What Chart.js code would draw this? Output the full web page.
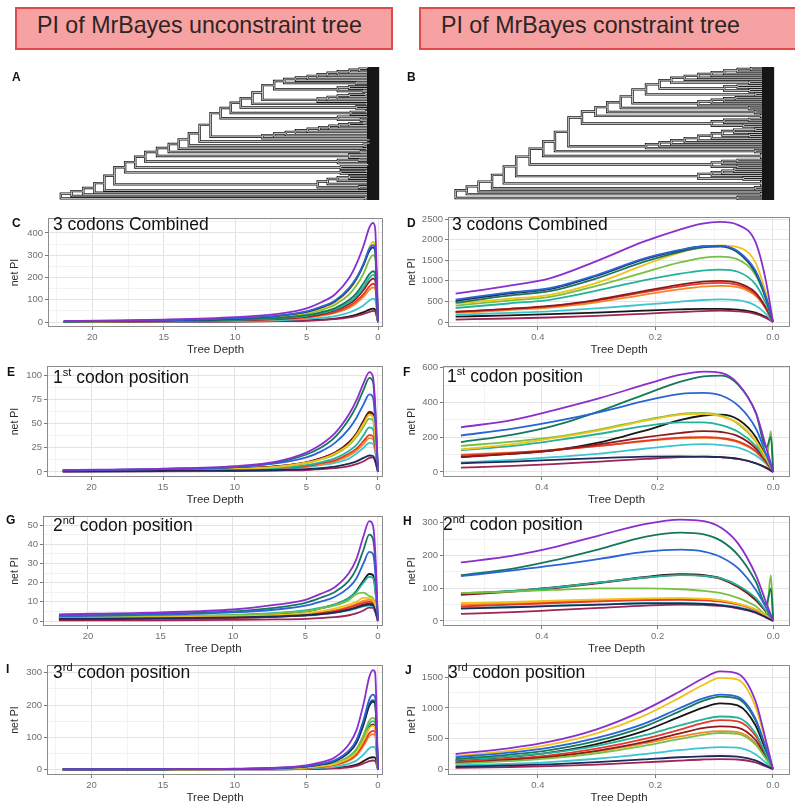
<!DOCTYPE html>
<html>
<head>
<meta charset="utf-8">
<script src="https://cdn.jsdelivr.net/npm/chart.js@4.4.1/dist/chart.umd.min.js"></script>
<style>
html, body { margin: 0; padding: 0; background: #fff; }
body { width: 795px; height: 805px; position: relative; overflow: hidden; font-family: "Liberation Sans", Arial, sans-serif; }
canvas { position: absolute; }
.hdr { position: absolute; top: 7px; height: 43px; box-sizing: border-box; background: #f6a2a2; border: 2px solid #e04a4a;
       font-size: 23.2px; line-height: 33px; color: #2e2424; padding-left: 20px; white-space: nowrap; overflow: hidden; }
.lab { position: absolute; font-weight: bold; font-size: 12px; line-height: 12px; color: #111; }
.ttl { position: absolute; font-size: 17.5px; line-height: 18px; color: #111; white-space: nowrap; }
.ttl sup { font-size: 11px; line-height: 0; vertical-align: baseline; position: relative; top: -7px; }
</style>
</head>
<body>
<div class="hdr" style="left:15px;width:378px;">PI of MrBayes unconstraint tree</div>
<div class="hdr" style="left:419px;width:380px;">PI of MrBayes constraint tree</div>

<script>
const FONT = '"Liberation Sans", Arial, sans-serif';

// ---- depth sampling of the informativeness profiles ----
const depthUncon = [22, 15, 10, 7, 5, 4, 3, 2, 1.5, 1, 0.6, 0.35, 0.2, 0];
const depthCon = [0.54, 0.45, 0.38, 0.3, 0.22, 0.16, 0.12, 0.09, 0.06, 0.03, 0.012, 0.004, 0];

// one colour per locus: purple, blue, navy, dark green, yellow, light green, teal,
// dark red, red, orange, cyan, maroon, black
const lociColors = ['#8a2fcc', '#2a64d6', '#1d2b5c', '#16785a', '#f1c21b', '#78c043', '#22b39a',
                    '#8e1b1b', '#e4382a', '#f3862a', '#3cc5d0', '#9c2457', '#171717'];

// ---- net PI, 3 codons combined ----
const piCombinedUncon = [
  [4, 11, 22, 37, 62, 88, 125, 200, 262, 345, 425, 445, 420, 0],
  [3, 8, 17, 29, 48, 68, 97, 155, 200, 265, 330, 345, 330, 0],
  [3, 8, 16, 28, 46, 65, 93, 150, 195, 258, 320, 335, 320, 0],
  [2, 5, 11, 19, 31, 44, 63, 100, 130, 175, 215, 228, 220, 0],
  [2, 6, 14, 25, 42, 60, 88, 145, 192, 262, 335, 360, 345, 0],
  [2, 6, 13, 23, 38, 54, 78, 125, 165, 220, 280, 300, 290, 0],
  [2, 5, 10, 17, 28, 40, 57, 90, 118, 158, 198, 212, 205, 0],
  [1, 4, 9, 15, 25, 36, 52, 82, 108, 145, 183, 195, 188, 0],
  [1, 3, 8, 13, 22, 32, 45, 72, 95, 127, 160, 172, 165, 0],
  [1, 3, 7, 12, 20, 29, 41, 65, 86, 115, 145, 156, 150, 0],
  [1, 2, 5, 8, 14, 19, 27, 43, 57, 76, 97, 105, 100, 0],
  [0, 1, 2, 4, 6, 9, 13, 21, 28, 37, 46, 50, 48, 0],
  [1, 2, 3, 5, 8, 11, 16, 26, 34, 45, 56, 60, 57, 0]
];
const piCombinedCon = [
  [690, 880, 1060, 1480, 1950, 2240, 2390, 2430, 2360, 1950, 1000, null, 0],
  [545, 715, 820, 1140, 1540, 1745, 1840, 1850, 1720, 1250, 600, null, 0],
  [510, 690, 800, 1120, 1520, 1735, 1835, 1845, 1710, 1230, 590, null, 0],
  [470, 640, 750, 1060, 1460, 1700, 1810, 1830, 1690, 1200, 570, null, 0],
  [450, 560, 660, 950, 1380, 1680, 1810, 1860, 1820, 1450, 700, null, 0],
  [400, 520, 610, 880, 1200, 1440, 1560, 1590, 1520, 1150, 560, null, 0],
  [340, 450, 540, 760, 1010, 1170, 1250, 1270, 1220, 920, 450, null, 0],
  [245, 320, 390, 540, 750, 900, 980, 1000, 950, 720, 350, null, 0],
  [250, 315, 380, 520, 720, 860, 930, 950, 900, 680, 330, null, 0],
  [220, 290, 350, 480, 660, 790, 860, 880, 850, 640, 320, null, 0],
  [175, 220, 260, 330, 420, 490, 535, 550, 530, 400, 200, null, 0],
  [60, 85, 110, 150, 200, 240, 265, 275, 260, 200, 100, null, 0],
  [130, 160, 190, 230, 275, 305, 320, 320, 300, 230, 120, null, 0]
];

// ---- net PI, 1st codon position ----
const piPos1Uncon = [
  [2, 3.5, 6, 11, 20, 28, 40, 60, 74, 92, 103, 98, 70, 0],
  [1.5, 3, 5, 9, 15, 21, 30, 45, 56, 70, 80, 77, 55, 0],
  [0.5, 1, 1.5, 2, 3, 4, 5.5, 8.5, 11, 14.5, 17, 16.5, 12, 0],
  [1.5, 3, 5, 10, 18, 25, 36, 55, 68, 85, 97, 93, 66, 0],
  [1, 2, 3, 5.5, 9.5, 13, 19, 29, 38, 50, 59, 57, 40, 0],
  [1, 2, 3, 5, 9, 13, 18, 28, 36, 47, 55, 53, 38, 0],
  [1, 1.5, 2.5, 4, 7, 10, 14, 22, 28, 38, 46, 44, 32, 0],
  [1, 2, 3.5, 6, 10, 14, 20, 30, 39, 52, 61, 59, 42, 0],
  [1, 1.5, 2.5, 4, 6, 9, 12, 19, 24, 32, 38, 37, 27, 0],
  [1, 1.5, 2.5, 4, 6, 8, 11, 17, 22, 29, 35, 34, 24, 0],
  [0.5, 1, 2, 3, 5, 7, 9.5, 14, 19, 25, 30, 29, 21, 0],
  [0.2, 0.5, 1, 1.5, 2, 3, 4, 6, 8, 11, 14.5, 15, 11, 0],
  [1, 2, 3.5, 6, 10, 14, 20, 31, 40, 53, 62, 60, 43, 0]
];
const piPos1Con = [
  [257, 300, 355, 425, 505, 560, 578, 570, 505, 340, 140, null, 0],
  [210, 250, 290, 345, 410, 450, 455, 440, 380, 250, 100, null, 0],
  [50, 60, 70, 80, 88, 90, 88, 85, 75, 50, 25, null, 0],
  [172, 215, 265, 350, 450, 520, 550, 555, 500, 340, 140, 200, 0],
  [130, 160, 195, 240, 295, 330, 335, 320, 280, 180, 80, null, 0],
  [150, 175, 200, 245, 300, 335, 340, 325, 275, 175, 75, 235, 0],
  [125, 150, 180, 220, 265, 285, 285, 270, 230, 150, 70, null, 0],
  [85, 105, 125, 160, 200, 225, 235, 230, 205, 135, 60, null, 0],
  [95, 110, 125, 150, 180, 198, 200, 195, 175, 120, 55, null, 0],
  [100, 112, 128, 150, 178, 193, 197, 192, 170, 115, 50, null, 0],
  [55, 70, 85, 105, 135, 155, 160, 155, 140, 95, 45, null, 0],
  [25, 35, 45, 60, 75, 85, 88, 85, 75, 50, 22, null, 0],
  [88, 105, 125, 170, 240, 300, 325, 330, 300, 200, 80, null, 0]
];

// ---- net PI, 2nd codon position ----
const piPos2Uncon = [
  [3.5, 4.5, 6, 8.5, 11, 14, 17.5, 25, 32, 44, 52, 50, 38, 0],
  [2.5, 3.3, 4.5, 6, 8, 10, 12.5, 17.5, 22, 30, 36, 35, 27, 0],
  [1.2, 1.5, 1.9, 2.4, 3, 3.6, 4.4, 5.8, 6.8, 8, 8.5, 8.2, 6, 0],
  [2.8, 3.8, 5, 7, 9.5, 12, 15, 21, 27, 37, 45, 43, 33, 0],
  [1.5, 2, 2.5, 3, 4, 5, 6.5, 8.5, 10, 12, 12, 11, 8.5, 0],
  [2, 2.5, 3, 4, 5, 6.5, 8, 11, 14, 14.8, 13, 12, 9, 0],
  [2, 2.5, 3.2, 4.2, 5.5, 6.8, 8.5, 12, 15, 20, 23, 22.5, 17, 0],
  [0.8, 1.2, 1.6, 2.2, 2.9, 3.6, 4.5, 6, 7.2, 8.5, 9, 8.7, 6.5, 0],
  [1, 1.4, 1.9, 2.5, 3.3, 4.2, 5.2, 7, 8.3, 9.5, 10, 9.5, 7, 0],
  [1, 1.5, 2, 2.7, 3.5, 4.5, 5.5, 7.5, 9, 10.5, 11, 10.5, 8, 0],
  [1, 1.3, 1.7, 2.2, 2.8, 3.4, 4.2, 5.5, 6.5, 7.6, 8, 7.7, 5.5, 0],
  [0.3, 0.4, 0.6, 0.8, 1.1, 1.5, 2, 3, 4, 5.5, 7, 6.8, 5, 0],
  [1.5, 2, 2.8, 3.8, 5, 6.5, 8.5, 12, 15.5, 21, 24.5, 24, 18, 0]
];
const piPos2Con = [
  [179, 200, 225, 262, 297, 310, 305, 285, 235, 140, 55, null, 0],
  [137, 155, 170, 190, 212, 218, 212, 195, 160, 95, 40, null, 0],
  [38, 42, 46, 50, 54, 54, 52, 48, 40, 26, 11, null, 0],
  [140, 160, 185, 220, 258, 270, 265, 245, 200, 120, 50, 100, 0],
  [55, 58, 62, 66, 69, 70, 68, 63, 52, 35, 15, null, 0],
  [85, 90, 95, 100, 100, 97, 92, 85, 70, 45, 20, 140, 0],
  [85, 92, 102, 118, 133, 140, 138, 130, 108, 70, 30, null, 0],
  [80, 90, 100, 116, 133, 141, 138, 128, 103, 63, 27, null, 0],
  [45, 50, 55, 60, 64, 65, 63, 59, 50, 33, 14, null, 0],
  [50, 54, 58, 63, 67, 68, 66, 62, 52, 34, 15, null, 0],
  [40, 43, 47, 51, 55, 55, 53, 49, 42, 28, 12, null, 0],
  [22, 27, 33, 40, 47, 50, 49, 46, 38, 25, 10, null, 0],
  [82, 92, 103, 118, 135, 143, 140, 130, 105, 65, 28, null, 0]
];

// ---- net PI, 3rd codon position ----
const piPos3Uncon = [
  [0.5, 1, 2.5, 6, 13, 22, 38, 80, 122, 205, 288, 308, 300, 0],
  [0.4, 0.8, 2, 4.5, 10, 17, 29, 60, 92, 155, 218, 232, 225, 0],
  [0.4, 0.8, 1.8, 4, 9, 15, 26, 54, 83, 140, 198, 210, 204, 0],
  [0.4, 0.8, 1.8, 4.2, 9.5, 16, 27, 56, 86, 145, 203, 215, 208, 0],
  [0.3, 0.5, 1.2, 2.7, 6, 10, 17, 35, 54, 91, 128, 135, 130, 0],
  [0.3, 0.6, 1.4, 3.2, 7, 12, 20, 42, 64, 108, 152, 160, 155, 0],
  [0.3, 0.6, 1.3, 3, 6.5, 11, 19, 39, 60, 101, 142, 150, 145, 0],
  [0.3, 0.5, 1.2, 2.8, 6, 10, 17.5, 36, 56, 94, 132, 140, 135, 0],
  [0.2, 0.5, 1, 2.4, 5, 9, 15, 31, 48, 81, 113, 120, 116, 0],
  [0.2, 0.4, 1, 2.2, 4.8, 8, 13.5, 28, 44, 74, 104, 110, 106, 0],
  [0.1, 0.3, 0.6, 1.4, 3, 5, 8.5, 18, 28, 47, 66, 70, 68, 0],
  [0.1, 0.1, 0.3, 0.6, 1.2, 2, 3.4, 7, 11, 19, 26, 28, 27, 0],
  [0.1, 0.2, 0.4, 0.8, 1.7, 3, 5, 10, 15, 26, 36, 38, 37, 0]
];
const piPos3Con = [
  [248, 340, 448, 650, 960, 1260, 1475, 1595, 1560, 1120, 470, null, 0],
  [195, 270, 350, 510, 740, 990, 1150, 1215, 1180, 830, 350, null, 0],
  [40, 60, 80, 115, 160, 195, 210, 215, 205, 145, 60, null, 0],
  [165, 235, 310, 460, 690, 940, 1110, 1185, 1150, 800, 335, null, 0],
  [215, 300, 400, 585, 870, 1160, 1370, 1490, 1460, 1030, 430, null, 0],
  [90, 130, 175, 260, 380, 490, 560, 590, 575, 405, 170, null, 0],
  [150, 205, 265, 380, 550, 710, 810, 860, 840, 590, 250, null, 0],
  [100, 150, 200, 300, 440, 580, 670, 700, 680, 480, 200, null, 0],
  [120, 170, 225, 335, 490, 640, 750, 800, 780, 550, 230, null, 0],
  [110, 155, 200, 290, 420, 530, 595, 620, 605, 430, 180, null, 0],
  [60, 85, 115, 170, 245, 310, 345, 360, 350, 245, 105, null, 0],
  [20, 35, 50, 75, 110, 140, 158, 165, 158, 110, 45, null, 0],
  [140, 200, 270, 410, 620, 850, 1000, 1075, 1040, 720, 300, null, 0]
];

// ---- axis ticks ----
const depthTicksUncon = [0, 5, 10, 15, 20];
const depthTicksCon = [0, 0.2, 0.4];
const yTicksCombinedUncon = [0, 100, 200, 300, 400];
const yTicksCombinedCon = [0, 500, 1000, 1500, 2000, 2500];
const yTicksPos1Uncon = [0, 25, 50, 75, 100];
const yTicksPos1Con = [0, 200, 400, 600];
const yTicksPos2Uncon = [0, 10, 20, 30, 40, 50];
const yTicksPos2Con = [0, 100, 200, 300];
const yTicksPos3Uncon = [0, 100, 200, 300];
const yTicksPos3Con = [0, 500, 1000, 1500];

// ---- trees: ladder backbone from the root upward as [node age, side clade]; 0 is a tip ----
const backboneUncon = [
  [22.2, [0.9, 0, 0]],
  [21.45, 0],
  [20.63, 0],
  [19.85, 0],
  [19.15, [0.6, 0, 0]],
  [18.45, [4.22, [1.3, 0, 0], [3.52, [0.7, 0, 0], [2.81, [0.5, 0, 0], [1.99, 0, [0.6, 0, 0]]]]]],
  [17.7, [2.6, 0, [0.8, 0, 0]]],
  [16.99, [2.6, 0, [0.5, 0, 0]]],
  [16.29, [2.8, [0.6, 0, 0], [1.3, 0, 0]]],
  [15.47, [2.0, 0, 0, 0]],
  [14.65, [1.2, 0, 0]],
  [13.95, [0.8, 0, 0]],
  [13.24, [1.0, 0, 0]],
  [12.49, [0.5, 0, 0, 0]],
  [11.72, [8.09, 0, [7.27, 0, [6.45, 0, [5.74, 0, [4.92, 0, [4.1, 0, [3.4, 0, [2.7, 0, [2.0, 0, [1.0, 0, 0]]]]]]]]]]],
  [11.02, [2.8, [1.2, 0, 0], [0.6, 0, 0]]],
  [10.31, [1.9, 0, [0.8, 0, 0]]],
  [9.61, [1.5, [0.6, 0, 0], 0]],
  [8.79, [0.8, 0, 0]],
  [8.09, [4.22, 0, [3.52, 0, [2.81, 0, [1.99, 0, [0.9, 0, 0]]]]]],
  [7.27, [2.81, [1.0, 0, 0], [2.0, 0, [0.6, 0, 0]]]],
  [6.56, [1.5, 0, 0]]
];
const crownUncon = [5.74, 0, [4.92, 0, [4.22, 0, [3.52, 0, [2.81, 0, [1.99, 0, [1.29, 0, [0.6, 0, 0]]]]]]]];

const backboneCon = [
  [0.54, [0.06, 0, 0]],
  [0.521, [0.02, 0, 0]],
  [0.501, 0],
  [0.478, [0.03, 0, 0]],
  [0.458, [0.02, 0, 0, 0]],
  [0.437, [0.127, [0.05, 0, 0], [0.104, 0, [0.086, 0, [0.066, 0, 0]]]]],
  [0.414, [0.104, [0.06, 0, 0], [0.086, 0, [0.06, 0, 0]]]],
  [0.391, [0.02, 0, 0, 0]],
  [0.371, [0.03, 0, 0]],
  [0.348, [0.216, 0, [0.193, 0, [0.173, 0, [0.15, 0, [0.127, 0, [0.104, 0, [0.086, [0.04, 0, 0], [0.066, 0, [0.03, 0, 0]]]]]]]]]],
  [0.325, [0.104, [0.05, 0, 0], [0.083, 0, [0.04, 0, 0]]]],
  [0.302, [0.02, 0, 0]],
  [0.282, [0.03, 0, 0]],
  [0.259, [0.04, 0, 0]],
  [0.239, [0.127, 0, [0.104, 0, [0.083, 0, [0.063, 0, 0]]]]],
  [0.216, [0.03, 0, 0]],
  [0.193, [0.083, [0.04, 0, 0], [0.06, 0, 0]]],
  [0.173, [0.04, 0, 0]]
];
const crownCon = [0.15, 0, [0.127, 0, [0.104, 0, [0.083, 0, [0.06, 0, [0.037, 0, 0]]]]]];

// ---------------------------------------------------------------
Chart.defaults.font.family = FONT;
Chart.defaults.animation = false;
Chart.defaults.events = [];

const panelBorder = {
  id: 'panelBorder',
  afterDatasetsDraw(chart, args, opts) {
    if (!opts.on) return;
    const a = chart.chartArea, ctx = chart.ctx;
    ctx.save();
    ctx.strokeStyle = '#8c8c8c';
    ctx.lineWidth = 1;
    ctx.strokeRect(Math.round(a.left) + 0.5, Math.round(a.top) + 0.5,
                   Math.round(a.right - a.left) - 1, Math.round(a.bottom - a.top) - 1);
    ctx.restore();
  }
};
Chart.register(panelBorder);

function makeCanvas(l, t, w, h) {
  const c = document.createElement('canvas');
  c.width = w; c.height = h;
  c.style.left = l + 'px'; c.style.top = t + 'px';
  c.style.width = w + 'px'; c.style.height = h + 'px';
  document.body.appendChild(c);
  return c;
}

function withMinor(major, lo, hi) {
  const step = major[1] - major[0];
  const minor = [major[0] - step / 2].concat(major.map(v => v + step / 2));
  return major.concat(minor).filter(v => v >= lo && v <= hi).sort((a, b) => a - b);
}
const isIn = (arr, v) => arr.some(m => Math.abs(m - v) < 1e-9);

function plotPanel(p) {
  const [cl, ct, cw, ch] = p.canvas;
  const [bl, bt, br, bb] = p.box;
  const cv = makeCanvas(cl, ct, cw, ch);
  const xAll = withMinor(p.xMajor, p.xRange[0], p.xRange[1]);
  const yAll = withMinor(p.yMajor, p.yRange[0], p.yRange[1]);
  const datasets = p.values.map((vals, i) => ({
    data: p.xs.map((x, j) => ({ x: x, y: vals[j] })),
    showLine: true,
    borderColor: lociColors[i],
    borderWidth: 1.8,
    pointRadius: 0,
    cubicInterpolationMode: 'monotone',
    spanGaps: true,
    fill: false
  }));
  const tickFont = { family: FONT, size: 9.5 };
  new Chart(cv, {
    type: 'scatter',
    data: { datasets },
    options: {
      responsive: false,
      layout: { padding: { left: 0, top: bt - ct, right: cl + cw - br, bottom: 0 } },
      plugins: { legend: { display: false }, tooltip: { enabled: false }, panelBorder: { on: true } },
      scales: {
        x: {
          type: 'linear', reverse: true, min: p.xRange[0], max: p.xRange[1],
          afterBuildTicks: ax => { ax.ticks = xAll.map(v => ({ value: v })); },
          afterFit: ax => { ax.height = ct + ch - bb; },
          ticks: {
            autoSkip: false, maxRotation: 0, padding: 2, color: '#707070', font: tickFont,
            callback: v => isIn(p.xMajor, v) ? p.xFmt(v) : ''
          },
          grid: {
            drawTicks: true, tickLength: 3, lineWidth: 1,
            color: c => isIn(p.xMajor, c.tick.value) ? '#e3e3e3' : '#f2f2f2',
            tickColor: c => isIn(p.xMajor, c.tick.value) ? '#7a7a7a' : 'rgba(0,0,0,0)'
          },
          border: { display: false },
          title: { display: true, text: 'Tree Depth', color: '#2b2b2b', font: { family: FONT, size: 11.5 }, padding: { top: 0, bottom: 0 } }
        },
        y: {
          type: 'linear', min: p.yRange[0], max: p.yRange[1],
          afterBuildTicks: ax => { ax.ticks = yAll.map(v => ({ value: v })); },
          afterFit: ax => { ax.width = bl - cl; },
          ticks: {
            autoSkip: false, padding: 2, color: '#707070', font: tickFont,
            callback: v => isIn(p.yMajor, v) ? String(v) : ''
          },
          grid: {
            drawTicks: true, tickLength: 3, lineWidth: 1,
            color: c => isIn(p.yMajor, c.tick.value) ? '#e3e3e3' : '#f2f2f2',
            tickColor: c => isIn(p.yMajor, c.tick.value) ? '#7a7a7a' : 'rgba(0,0,0,0)'
          },
          border: { display: false },
          title: { display: true, text: 'net PI', color: '#2b2b2b', font: { family: FONT, size: 10.5 }, padding: { top: p.yTitlePad, bottom: 0 } }
        }
      }
    }
  });
}

function buildTree(backbone, crown) {
  let node = crown;
  for (let i = backbone.length - 1; i >= 0; i--) node = [backbone[i][0], backbone[i][1], node];
  return node;
}

function treeSegments(tree) {
  const pts = [];
  let tip = 0;
  function walk(node) {
    if (!Array.isArray(node)) { tip += 1; return { x: node, y: tip }; }
    const age = node[0];
    const kids = node.slice(1).map(walk);
    const y0 = kids[0].y, y1 = kids[kids.length - 1].y;
    pts.push({ x: age, y: y0 }, { x: age, y: y1 }, { x: age, y: null });
    kids.forEach(k => pts.push({ x: age, y: k.y }, { x: k.x, y: k.y }, { x: k.x, y: null }));
    return { x: age, y: (y0 + y1) / 2 };
  }
  walk(tree);
  return { pts, n: tip };
}

// branches are drawn as a dark stroke with a pale core; the core stops short of the tips,
// leaving the crowded tip ends solid black
function treePanel(canvasRect, area, tree, xRange, tipBand) {
  const [cl, ct, cw, ch] = canvasRect;
  const [al, at, ar, ab] = area;
  const cv = makeCanvas(cl, ct, cw, ch);
  const { pts, n } = treeSegments(tree);
  new Chart(cv, {
    type: 'scatter',
    data: {
      datasets: [
        { data: pts, showLine: true, borderColor: '#d6d6d6', borderWidth: 0.9, pointRadius: 0, spanGaps: false,
          clip: { left: 4, top: 4, right: -tipBand, bottom: 4 } },
        { data: pts, showLine: true, borderColor: '#161616', borderWidth: 2.4, borderCapStyle: 'square', pointRadius: 0, spanGaps: false }
      ]
    },
    options: {
      responsive: false,
      layout: { padding: { left: al - cl, top: at - ct, right: cl + cw - ar, bottom: ct + ch - ab } },
      plugins: { legend: { display: false }, tooltip: { enabled: false }, panelBorder: { on: false } },
      scales: {
        x: { type: 'linear', reverse: true, min: xRange[0], max: xRange[1], display: false },
        y: { type: 'linear', min: 0.5, max: n + 0.5, display: false }
      }
    }
  });
}

const leftRange = [-0.35, 23.1];
const fmtInt = v => String(v);
const fmtDec = v => v.toFixed(1);

treePanel([0, 60, 395, 145], [48, 67, 383, 200], buildTree(backboneUncon, crownUncon), leftRange, 16);
treePanel([400, 60, 395, 145], [448, 67, 790, 200], buildTree(backboneCon, crownCon), [-0.029, 0.553], 28);

plotPanel({ canvas: [0, 208, 395, 149], box: [48, 218, 383, 327], xs: depthUncon, xRange: leftRange,
  xMajor: depthTicksUncon, xFmt: fmtInt, values: piCombinedUncon, yRange: [-22, 467], yMajor: yTicksCombinedUncon, yTitlePad: 8.7 });
plotPanel({ canvas: [400, 208, 395, 149], box: [448, 217, 790, 327], xs: depthCon, xRange: [-0.029, 0.553],
  xMajor: depthTicksCon, xFmt: fmtDec, values: piCombinedCon, yRange: [-121, 2550], yMajor: yTicksCombinedCon, yTitlePad: 5.7 });
plotPanel({ canvas: [0, 358, 395, 149], box: [47, 366, 383, 477], xs: depthUncon, xRange: leftRange,
  xMajor: depthTicksUncon, xFmt: fmtInt, values: piPos1Uncon, yRange: [-5.2, 109.3], yMajor: yTicksPos1Uncon, yTitlePad: 8.7 });
plotPanel({ canvas: [400, 358, 395, 149], box: [443, 366, 790, 477], xs: depthCon, xRange: [-0.029, 0.571],
  xMajor: depthTicksCon, xFmt: fmtDec, values: piPos1Con, yRange: [-29, 610], yMajor: yTicksPos1Con, yTitlePad: 5.7 });
plotPanel({ canvas: [0, 508, 395, 148], box: [43, 516, 383, 626], xs: depthUncon, xRange: leftRange,
  xMajor: depthTicksUncon, xFmt: fmtInt, values: piPos2Uncon, yRange: [-2.6, 54.7], yMajor: yTicksPos2Uncon, yTitlePad: 8.7 });
plotPanel({ canvas: [400, 508, 395, 148], box: [443, 516, 790, 626], xs: depthCon, xRange: [-0.029, 0.571],
  xMajor: depthTicksCon, xFmt: fmtDec, values: piPos2Con, yRange: [-15.3, 321], yMajor: yTicksPos2Con, yTitlePad: 5.7 });
plotPanel({ canvas: [0, 657, 395, 148], box: [47, 665, 383, 775], xs: depthUncon, xRange: leftRange,
  xMajor: depthTicksUncon, xFmt: fmtInt, values: piPos3Uncon, yRange: [-17, 324], yMajor: yTicksPos3Uncon, yTitlePad: 8.7 });
plotPanel({ canvas: [400, 657, 395, 148], box: [448, 665, 790, 775], xs: depthCon, xRange: [-0.029, 0.553],
  xMajor: depthTicksCon, xFmt: fmtDec, values: piPos3Con, yRange: [-95, 1700], yMajor: yTicksPos3Con, yTitlePad: 5.7 });

// panel letters and in-panel titles
const overlay = [
  ['lab', 12, 71, 'A'], ['lab', 407, 71, 'B'],
  ['lab', 12, 217, 'C'], ['lab', 407, 217, 'D'],
  ['lab', 7, 366, 'E'], ['lab', 403, 366, 'F'],
  ['lab', 6, 514, 'G'], ['lab', 403, 515, 'H'],
  ['lab', 6, 663, 'I'], ['lab', 405, 664, 'J'],
  ['ttl', 53, 215, '3 codons Combined'], ['ttl', 452, 215, '3 codons Combined'],
  ['ttl', 53, 368, '1<sup>st</sup> codon position'], ['ttl', 447, 367, '1<sup>st</sup> codon position'],
  ['ttl', 53, 516, '2<sup>nd</sup> codon position'], ['ttl', 443, 515, '2<sup>nd</sup> codon position'],
  ['ttl', 53, 663, '3<sup>rd</sup> codon position'], ['ttl', 448, 663, '3<sup>rd</sup> codon position']
];
overlay.forEach(([cls, l, t, html]) => {
  const d = document.createElement('div');
  d.className = cls;
  d.style.left = l + 'px';
  d.style.top = t + 'px';
  d.innerHTML = html;
  document.body.appendChild(d);
});
</script>
</body>
</html>
